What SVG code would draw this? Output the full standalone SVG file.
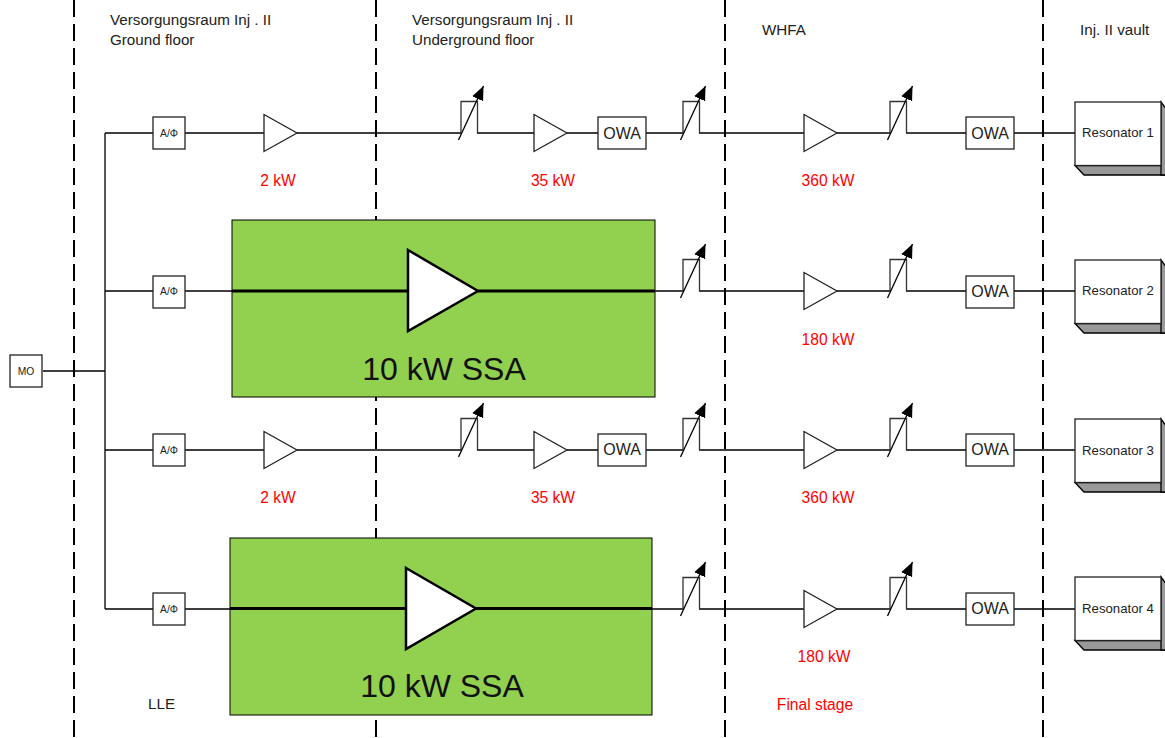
<svg xmlns="http://www.w3.org/2000/svg" width="1165" height="738" viewBox="0 0 1165 738">
<defs>
<marker id="ah" markerUnits="userSpaceOnUse" markerWidth="16" markerHeight="14" refX="14" refY="6" orient="auto"><path d="M0 0L14 6L0 12z" fill="#000"/></marker>
<g id="att"><path class="w" d="M0 0V-31.5H16.5V0"/><path class="l" d="M-2.5 7L22.5 -47" marker-end="url(#ah)"/></g>
<g id="tri"><path class="n" d="M0 -18.5L33 0L0 18.5z"/></g>
<g id="res"><path d="M0 63.5L9 73H95V63.5z" fill="#999" stroke="#000" stroke-width="1.3"/><path d="M86 0L95 12V73H86z" fill="#999" stroke="#000" stroke-width="1.3"/><rect class="n" x="0" y="0" width="86" height="63.5"/></g>
</defs>
<style>
text{font-family:"Liberation Sans",Arial,sans-serif;fill:#222}
.l,.w{fill:none;stroke:#000;stroke-width:1.3}
.w{stroke:#333}
.n{fill:#fff;stroke:#222;stroke-width:1.3}
.d{fill:none;stroke:#000;stroke-width:2;stroke-dasharray:17 7}
.h{font-size:15.2px}
.p{font-size:15.6px;fill:#f00;text-anchor:middle}
.o{font-size:16px;text-anchor:middle}
.a{font-size:10.3px;text-anchor:middle}
.r{font-size:13.2px;text-anchor:middle}
.s{font-size:32px;text-anchor:middle;fill:#111}
.g{fill:#92d050;stroke:#000;stroke-width:1}
.t{fill:none;stroke:#000;stroke-width:3}
.b{fill:#fff;stroke:#000;stroke-width:2.5}
</style>
<g id="dividers">
<path class="d" d="M74 0V738"/><path class="d" d="M376 0V738"/><path class="d" d="M725 0V738"/><path class="d" d="M1043 0V738"/>
</g>
<g id="connectors">
<path class="l" d="M43 371H105M105 133V609M105 133H153M105 291H153M105 450H153M105 609H153"/>
<path class="l" d="M185 133H264M297 133H461M477 133H535M567 133H598M646 133H683M699 133H804M837 133H890M906 133H966M1014 133H1075"/>
<path class="l" d="M185 291H232M655 291H683M699 291H804M837 291H890M906 291H966M1014 291H1075"/>
<path class="l" d="M185 450H264M297 450H461M477 450H535M567 450H598M646 450H683M699 450H804M837 450H890M906 450H966M1014 450H1075"/>
<path class="l" d="M185 609H230M652 609H683M699 609H804M837 609H890M906 609H966M1014 609H1075"/>
</g>
<g id="mo"><rect class="n" x="10" y="355" width="32" height="32"/><text class="a" x="26" y="375">MO</text></g>
<g id="af1"><rect class="n" x="153" y="117" width="32" height="32"/><text class="a" x="169" y="137">A/Φ</text></g>
<g id="af2"><rect class="n" x="153" y="276" width="32" height="32"/><text class="a" x="169" y="295">A/Φ</text></g>
<g id="af3"><rect class="n" x="153" y="434" width="32" height="32"/><text class="a" x="169" y="454">A/Φ</text></g>
<g id="af4"><rect class="n" x="153" y="593" width="32" height="32"/><text class="a" x="169" y="613">A/Φ</text></g>
<g id="ssa1"><rect class="g" x="232" y="220" width="423" height="177"/><path class="t" d="M232 291H408M478 291H655"/><path class="b" d="M408 250L478 291L408 331z"/><text class="s" x="444" y="380">10 kW SSA</text></g>
<g id="ssa2"><rect class="g" x="230" y="538" width="422" height="177"/><path class="t" d="M230 608.5H406M476 608.5H652"/><path class="b" d="M406 568L476 608.5L406 649z"/><text class="s" x="442" y="697">10 kW SSA</text></g>
<g id="amps">
<use href="#tri" x="264" y="133"/><use href="#tri" x="534" y="133"/><use href="#tri" x="804" y="133"/>
<use href="#tri" x="804" y="291"/>
<use href="#tri" x="264" y="450"/><use href="#tri" x="534" y="450"/><use href="#tri" x="804" y="450"/>
<use href="#tri" x="804" y="609"/>
</g>
<g id="attenuators">
<use href="#att" x="461" y="133"/><use href="#att" x="683" y="133"/><use href="#att" x="890" y="133"/>
<use href="#att" x="683" y="291"/><use href="#att" x="890" y="291"/>
<use href="#att" x="461" y="450"/><use href="#att" x="683" y="450"/><use href="#att" x="890" y="450"/>
<use href="#att" x="683" y="609"/><use href="#att" x="890" y="609"/>
</g>
<g id="owa1a"><rect class="n" x="598" y="117" width="48" height="32"/><text class="o" x="622" y="139">OWA</text></g>
<g id="owa1b"><rect class="n" x="966" y="117" width="48" height="32"/><text class="o" x="990" y="139">OWA</text></g>
<g id="owa2"><rect class="n" x="966" y="276" width="48" height="32"/><text class="o" x="990" y="297">OWA</text></g>
<g id="owa3a"><rect class="n" x="598" y="434" width="48" height="32"/><text class="o" x="622" y="455">OWA</text></g>
<g id="owa3b"><rect class="n" x="966" y="434" width="48" height="32"/><text class="o" x="990" y="455">OWA</text></g>
<g id="owa4"><rect class="n" x="966" y="593" width="48" height="32"/><text class="o" x="990" y="614">OWA</text></g>
<g id="res1"><use href="#res" x="1075" y="102"/><text class="r" x="1118" y="137">Resonator 1</text></g>
<g id="res2"><use href="#res" x="1075" y="260"/><text class="r" x="1118" y="295">Resonator 2</text></g>
<g id="res3"><use href="#res" x="1075" y="419"/><text class="r" x="1118" y="455">Resonator 3</text></g>
<g id="res4"><use href="#res" x="1075" y="577"/><text class="r" x="1118" y="613">Resonator 4</text></g>
<g id="labels">
<text class="h" x="110" y="24.5">Versorgungsraum Inj . II</text>
<text class="h" x="110" y="45">Ground floor</text>
<text class="h" x="412" y="24.5">Versorgungsraum Inj . II</text>
<text class="h" x="412" y="45">Underground floor</text>
<text class="h" x="762" y="35">WHFA</text>
<text class="h" x="1080" y="35">Inj. II vault</text>
<text class="h" x="148" y="709">LLE</text>
<text class="p" x="278" y="186">2 kW</text><text class="p" x="553" y="186">35 kW</text><text class="p" x="828" y="186">360 kW</text>
<text class="p" x="828" y="345">180 kW</text>
<text class="p" x="278" y="503">2 kW</text><text class="p" x="553" y="503">35 kW</text><text class="p" x="828" y="503">360 kW</text>
<text class="p" x="824" y="662">180 kW</text>
<text class="p" x="815" y="710">Final stage</text>
</g>
</svg>
